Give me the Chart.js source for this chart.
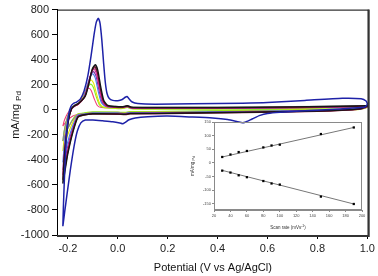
<!DOCTYPE html>
<html>
<head>
<meta charset="utf-8">
<script src="https://cdn.jsdelivr.net/npm/chart.js@4/dist/chart.umd.min.js"></script>
<style>
  html, body { margin: 0; padding: 0; background: #fff; }
  #wrap { position: relative; width: 378px; height: 276px; }
  #cv { position: absolute; left: 0; top: 0; }
  #inset { position: absolute; left: 186px; top: 118px; }
</style>
</head>
<body>
<div id="wrap">
  <canvas id="cv" width="378" height="276"></canvas>
  <canvas id="inset" width="186" height="115"></canvas>
</div>
<script>
// Main CV curves, [potential V, current mA/mg]
const cvBlue = [
  [-0.22,-930],[-0.218,-780],[-0.214,-560],[-0.209,-330],[-0.203,-150],[-0.196,-30],[-0.188,25],[-0.178,50],
  [-0.165,62],[-0.15,85],[-0.135,150],[-0.12,270],[-0.107,430],[-0.095,600],[-0.086,700],[-0.078,730],
  [-0.071,690],[-0.064,560],[-0.057,380],[-0.05,220],[-0.043,130],[-0.034,90],[-0.02,75],[0.0,73],
  [0.018,82],[0.03,100],[0.037,106],[0.045,88],[0.058,62],[0.08,50],[0.15,45],[0.3,48],[0.5,53],
  [0.6,58],[0.75,75],[0.9,92],[0.975,88],[0.995,70],[1.0,45],
  [0.99,22],[0.93,12],[0.85,2],[0.75,-8],[0.65,-20],[0.6,-30],[0.57,-45],[0.54,-72],[0.51,-100],
  [0.5,-104],[0.48,-95],[0.44,-78],[0.38,-66],[0.3,-58],[0.2,-50],[0.12,-55],[0.07,-65],[0.045,-80],
  [0.03,-100],[0.02,-112],[0.008,-105],[-0.02,-95],[-0.06,-88],[-0.1,-82],[-0.13,-82],[-0.148,-105],
  [-0.162,-170],[-0.175,-290],[-0.19,-480],[-0.203,-670],[-0.213,-820],[-0.22,-930]
];
const cvBlack = [
  [-0.22,-590],[-0.215,-410],[-0.208,-250],[-0.198,-90],[-0.185,10],[-0.172,35],[-0.158,50],[-0.13,110],
  [-0.115,215],[-0.102,325],[-0.09,360],[-0.08,315],[-0.068,180],[-0.056,75],[-0.04,35],[-0.01,26],
  [0.02,24],[0.038,32],[0.055,21],[0.1,18],[0.4,18],[0.7,23],[0.95,30],[1.0,32],
  [0.97,8],[0.8,-10],[0.5,-20],[0.2,-28],[0.05,-30],[0.03,-36],[0.0,-33],[-0.1,-32],[-0.14,-42],
  [-0.16,-60],[-0.18,-180],[-0.2,-350],[-0.21,-470],[-0.22,-590]
];
const cvMaroon = [
  [-0.22,-560],[-0.215,-390],[-0.208,-235],[-0.198,-85],[-0.185,8],[-0.172,32],[-0.158,46],[-0.132,105],
  [-0.117,205],[-0.104,310],[-0.092,345],[-0.082,300],[-0.07,172],[-0.058,70],[-0.042,30],[-0.01,23],
  [0.02,21],[0.038,30],[0.055,18],[0.1,15],[0.4,15],[0.7,20],[0.95,27],[1.0,29],
  [0.97,6],[0.8,-13],[0.5,-23],[0.2,-31],[0.05,-33],[0.03,-39],[0.0,-36],[-0.1,-35],[-0.14,-45],
  [-0.16,-56],[-0.18,-170],[-0.2,-336],[-0.21,-450],[-0.22,-560]
];
const cvGrey = [
  [-0.22,-250],[-0.215,-175],[-0.208,-105],[-0.198,-38],[-0.185,12],[-0.172,38],[-0.158,52],[-0.133,100],
  [-0.118,200],[-0.105,300],[-0.093,335],[-0.083,295],[-0.071,168],[-0.059,68],[-0.043,34],[-0.01,28],
  [0.02,26],[0.038,34],[0.055,23],[0.1,20],[0.4,20],[0.7,25],[0.95,32],[1.0,34],
  [0.97,10],[0.8,-2],[0.5,-12],[0.2,-20],[0.05,-22],[0.03,-28],[0.0,-25],[-0.1,-24],[-0.14,-34],
  [-0.16,-40],[-0.18,-80],[-0.2,-150],[-0.21,-200],[-0.22,-250]
];
const cvMagenta = [
  [-0.22,-520],[-0.215,-365],[-0.208,-220],[-0.198,-78],[-0.185,6],[-0.172,30],[-0.158,44],[-0.135,98],
  [-0.12,195],[-0.107,292],[-0.095,325],[-0.085,285],[-0.073,162],[-0.061,65],[-0.045,28],[-0.01,20],
  [0.02,18],[0.038,26],[0.055,15],[0.1,12],[0.4,12],[0.7,17],[0.95,24],[1.0,26],
  [0.97,5],[0.8,-8],[0.5,-18],[0.2,-26],[0.05,-28],[0.03,-34],[0.0,-31],[-0.1,-30],[-0.14,-40],
  [-0.16,-52],[-0.18,-156],[-0.2,-312],[-0.21,-416],[-0.22,-520]
];
const cvPurple = [
  [-0.22,-480],[-0.215,-336],[-0.208,-200],[-0.198,-72],[-0.185,5],[-0.172,30],[-0.158,45],[-0.137,92],
  [-0.122,183],[-0.109,275],[-0.097,305],[-0.087,268],[-0.075,152],[-0.063,62],[-0.047,26],[-0.01,18],
  [0.02,16],[0.038,24],[0.055,13],[0.1,10],[0.4,10],[0.7,15],[0.95,22],[1.0,24],
  [0.97,4],[0.8,-6],[0.5,-16],[0.2,-24],[0.05,-26],[0.03,-32],[0.0,-29],[-0.1,-28],[-0.14,-38],
  [-0.16,-48],[-0.18,-144],[-0.2,-288],[-0.21,-384],[-0.22,-480]
];
const cvLightBlue = [
  [-0.22,-420],[-0.215,-294],[-0.208,-176],[-0.198,-63],[-0.185,8],[-0.172,34],[-0.158,48],[-0.14,86],
  [-0.125,173],[-0.112,260],[-0.1,288],[-0.09,253],[-0.078,144],[-0.066,58],[-0.05,28],[-0.01,22],
  [0.02,20],[0.038,28],[0.055,17],[0.1,14],[0.4,14],[0.7,19],[0.95,26],[1.0,28],
  [0.97,6],[0.8,-4],[0.5,-14],[0.2,-22],[0.05,-24],[0.03,-30],[0.0,-27],[-0.1,-26],[-0.14,-36],
  [-0.16,-42],[-0.18,-126],[-0.2,-252],[-0.21,-336],[-0.22,-420]
];
const cvYellow = [
  [-0.22,-330],[-0.215,-231],[-0.208,-139],[-0.198,-50],[-0.185,6],[-0.172,32],[-0.158,46],[-0.146,72],
  [-0.131,143],[-0.118,214],[-0.106,238],[-0.096,209],[-0.084,119],[-0.072,48],[-0.056,22],[-0.01,14],
  [0.02,13],[0.038,22],[0.055,11],[0.1,8],[0.4,8],[0.7,13],[0.95,20],[1.0,22],
  [0.97,3],[0.8,0],[0.5,-10],[0.2,-18],[0.05,-20],[0.03,-26],[0.0,-23],[-0.1,-22],[-0.14,-32],
  [-0.16,-38],[-0.18,-99],[-0.2,-198],[-0.21,-264],[-0.22,-330]
];
const cvGreen = [
  [-0.22,-250],[-0.215,-175],[-0.208,-105],[-0.198,-38],[-0.185,8],[-0.172,34],[-0.158,50],[-0.148,65],
  [-0.133,123],[-0.12,185],[-0.108,205],[-0.098,180],[-0.086,103],[-0.074,41],[-0.058,18],[-0.01,11],
  [0.02,10],[0.038,19],[0.055,8],[0.1,5],[0.4,5],[0.7,10],[0.95,17],[1.0,19],
  [0.97,2],[0.8,3],[0.5,-5],[0.2,-13],[0.05,-15],[0.03,-21],[0.0,-18],[-0.1,-17],[-0.14,-27],
  [-0.16,-33],[-0.18,-75],[-0.2,-150],[-0.21,-200],[-0.22,-250]
];
const cvPink = [
  [-0.22,-130],[-0.215,-91],[-0.208,-55],[-0.198,-20],[-0.185,10],[-0.172,36],[-0.158,52],[-0.141,103],
  [-0.128,155],[-0.116,172],[-0.106,151],[-0.094,86],[-0.082,34],[-0.066,18],[-0.01,16],
  [0.02,15],[0.038,24],[0.055,13],[0.1,10],[0.4,10],[0.7,15],[0.95,22],[1.0,24],
  [0.97,4],[0.8,-2],[0.5,-8],[0.2,-16],[0.05,-18],[0.03,-24],[0.0,-21],[-0.1,-20],[-0.14,-30],
  [-0.16,-36],[-0.18,-50],[-0.2,-80],[-0.21,-104],[-0.22,-130]
];

const xTicks = [-0.2, 0.0, 0.2, 0.4, 0.6, 0.8, 1.0];
const yTicks = [800, 600, 400, 200, 0, -200, -400, -600, -800, -1000];

// Inset: peak current vs scan rate
const scanRates = [30, 40, 50, 60, 80, 90, 100, 150, 190];
const anodicPeaks = [22, 31, 40, 44, 57, 64, 67, 106, 130];
const cathodicPeaks = [-28, -35, -45, -52, -66, -75, -79, -123, -150];
const anodicFit = [[30, 22], [190, 130]];
const cathodicFit = [[30, -27], [190, -150]];
const insetXTicks = [20, 40, 60, 80, 100, 120, 140, 160, 180, 200];
const insetYTicks = [150, 100, 50, 0, -50, -100, -150];

const FONT = "'Liberation Sans', Arial, sans-serif";
const toXY = pts => pts.map(([x, y]) => ({ x, y }));

const curves = [
  { data: cvBlue,      color: '#1e22a8', width: 1.5 },
  { data: cvBlack,     color: '#151515', width: 1.4 },
  { data: cvMaroon,    color: '#7a0c2c', width: 1.3 },
  { data: cvMagenta,   color: '#e0209a', width: 1.1 },
  { data: cvLightBlue, color: '#4a78e8', width: 1.1 },
  { data: cvPurple,    color: '#7030a0', width: 1.1 },
  { data: cvGrey,      color: '#8a8a8a', width: 1.1 },
  { data: cvYellow,    color: '#e4e400', width: 1.1 },
  { data: cvGreen,     color: '#88ee22', width: 1.1 },
  { data: cvPink,      color: '#f0407a', width: 1.1 },
];

const mainDecor = {
  id: 'mainDecor',
  afterDraw(chart) {
    const { ctx, chartArea: a } = chart;
    ctx.save();
    ctx.strokeStyle = '#000';
    ctx.lineWidth = 1;
    ctx.strokeRect(a.left + 0.5, a.top + 0.5, a.right - a.left - 1, a.bottom - a.top);
    ctx.strokeStyle = '#333';
    ctx.lineWidth = 2;
    ctx.beginPath();
    ctx.moveTo(a.right, a.top);
    ctx.lineTo(a.right, a.bottom + 1);
    ctx.lineTo(a.left, a.bottom + 1);
    ctx.stroke();

    ctx.fillStyle = '#111';
    ctx.textAlign = 'center';
    ctx.textBaseline = 'middle';
    ctx.font = `11px ${FONT}`;
    ctx.fillText('Potential (V vs Ag/AgCl)', (a.left + a.right) / 2, 268);

    ctx.translate(16, 115);
    ctx.rotate(-Math.PI / 2);
    ctx.textAlign = 'left';
    const main = 'mA/mg ';
    const w = ctx.measureText(main).width;
    ctx.font = `8px ${FONT}`;
    const ws = ctx.measureText('Pd').width;
    const x0 = -(w + ws) / 2;
    ctx.font = `11px ${FONT}`;
    ctx.fillText(main, x0, 0);
    ctx.font = `8px ${FONT}`;
    ctx.fillText('Pd', x0 + w, 3);
    ctx.restore();
  }
};

new Chart(document.getElementById('cv'), {
  type: 'scatter',
  data: {
    datasets: curves.map(c => ({
      data: toXY(c.data),
      borderColor: c.color,
      borderWidth: c.width,
      showLine: true,
      pointRadius: 0,
      tension: 0.2,
      fill: false,
    })),
  },
  options: {
    responsive: false,
    animation: false,
    devicePixelRatio: 1,
    layout: { padding: { top: 5, right: 5, left: 0, bottom: 0 } },
    plugins: { legend: { display: false }, tooltip: { enabled: false } },
    scales: {
      x: {
        type: 'linear',
        min: -0.2435,
        max: 1.0055,
        afterBuildTicks: s => { s.ticks = xTicks.map(v => ({ value: v })); },
        afterFit: s => { s.height = 41; },
        grid: { drawOnChartArea: false, tickLength: 4, color: '#000' },
        border: { color: '#000' },
        ticks: { font: { family: FONT, size: 11 }, color: '#222', padding: 3, maxRotation: 0,
                 callback: v => Number(v).toFixed(1) },
      },
      y: {
        type: 'linear',
        min: -1000,
        max: 800,
        afterBuildTicks: s => { s.ticks = yTicks.map(v => ({ value: v })); },
        afterFit: s => { s.width = 57; },
        grid: { drawOnChartArea: false, tickLength: 5, color: '#000' },
        border: { color: '#000' },
        ticks: { font: { family: FONT, size: 11 }, color: '#222', padding: 3,
                 callback: v => String(v) },
      },
    },
  },
  plugins: [mainDecor],
});

const insetDecor = {
  id: 'insetDecor',
  afterDraw(chart) {
    const { ctx, chartArea: a } = chart;
    ctx.save();
    ctx.strokeStyle = '#8a8a8a';
    ctx.lineWidth = 1;
    ctx.strokeRect(a.left + 0.5, a.top + 0.5, a.right - a.left - 1, a.bottom - a.top - 1);

    ctx.fillStyle = '#333';
    ctx.textBaseline = 'middle';
    ctx.textAlign = 'left';
    ctx.font = `4.5px ${FONT}`;
    const t1 = 'Scan rate (mVs';
    const t2 = ')';
    const w1 = ctx.measureText(t1).width;
    ctx.font = `3.5px ${FONT}`;
    const ws = ctx.measureText('-1').width;
    ctx.font = `4.5px ${FONT}`;
    const w2 = ctx.measureText(t2).width;
    const cx = (a.left + a.right) / 2;
    let x0 = cx - (w1 + ws + w2) / 2;
    ctx.fillText(t1, x0, 110);
    ctx.font = `3.5px ${FONT}`;
    ctx.fillText('-1', x0 + w1, 108.5);
    ctx.font = `4.5px ${FONT}`;
    ctx.fillText(t2, x0 + w1 + ws, 110);

    ctx.translate(7, (a.top + a.bottom) / 2);
    ctx.rotate(-Math.PI / 2);
    const m = 'mA/mg ';
    const wm = ctx.measureText(m).width;
    ctx.font = `3.5px ${FONT}`;
    const wp = ctx.measureText('Pd').width;
    const y0 = -(wm + wp) / 2;
    ctx.font = `4.5px ${FONT}`;
    ctx.fillText(m, y0, 0);
    ctx.font = `3.5px ${FONT}`;
    ctx.fillText('Pd', y0 + wm, 1.2);
    ctx.restore();
  }
};

const pointSet = (ys) => ({
  data: scanRates.map((x, i) => ({ x, y: ys[i] })),
  showLine: false,
  pointStyle: 'rect',
  pointRadius: 1.6,
  backgroundColor: '#000',
  borderColor: '#000',
  borderWidth: 0,
});
const fitSet = (pts) => ({
  data: toXY(pts),
  showLine: true,
  pointRadius: 0,
  borderColor: '#777',
  borderWidth: 1,
});

new Chart(document.getElementById('inset'), {
  type: 'scatter',
  data: {
    datasets: [pointSet(anodicPeaks), pointSet(cathodicPeaks), fitSet(anodicFit), fitSet(cathodicFit)],
  },
  options: {
    responsive: false,
    animation: false,
    devicePixelRatio: 1,
    layout: { padding: { top: 4, right: 10, left: 0, bottom: 0 } },
    plugins: { legend: { display: false }, tooltip: { enabled: false } },
    scales: {
      x: {
        type: 'linear',
        min: 20,
        max: 200,
        afterBuildTicks: s => { s.ticks = insetXTicks.map(v => ({ value: v })); },
        afterFit: s => { s.height = 23; },
        grid: { drawOnChartArea: false, tickLength: 2, color: '#8a8a8a' },
        border: { color: '#8a8a8a' },
        ticks: { font: { family: FONT, size: 4 }, color: '#444', padding: 1, maxRotation: 0 },
      },
      y: {
        type: 'linear',
        min: -172,
        max: 150,
        afterBuildTicks: s => { s.ticks = insetYTicks.map(v => ({ value: v })); },
        afterFit: s => { s.width = 28; },
        grid: { drawOnChartArea: false, tickLength: 2, color: '#8a8a8a' },
        border: { color: '#8a8a8a' },
        ticks: { font: { family: FONT, size: 4 }, color: '#444', padding: 1 },
      },
    },
  },
  plugins: [insetDecor],
});
</script>
</body>
</html>
